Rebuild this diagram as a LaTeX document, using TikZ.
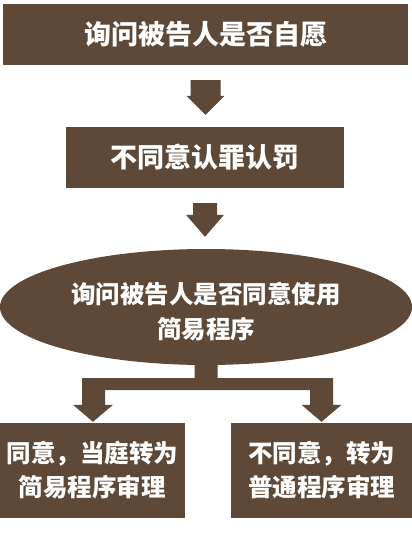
\documentclass[tikz,border=0pt]{standalone}
\usepackage{fontspec}
\newfontfamily\cjk{Noto Sans CJK SC}
\usetikzlibrary{shapes.geometric,calc}
\definecolor{brn}{HTML}{5E4838}
\tikzset{
  box/.style={fill=brn, inner sep=0pt, text=white, font=\cjk\bfseries\fontsize{24.5}{34}\selectfont, align=center},
  topbox/.style={box, font=\cjk\bfseries\fontsize{27}{34}\selectfont},
  lbl/.style={inner sep=0pt, text=white, font=\cjk\bfseries\fontsize{24.5}{35}\selectfont, align=center},
  blk/.style={fill=brn}
}
\begin{document}
\begin{tikzpicture}[x=1pt,y=-1pt]
\useasboundingbox[fill=white] (0,0) rectangle (412,549);
\node[topbox, minimum width=405pt, minimum height=61pt] (b1) at (205.5,34.5) {询问被告人是否自愿};
\node[topbox, minimum width=278pt, minimum height=61pt] (b2) at (205,157.5) {不同意认罪认罚};
\node[ellipse, fill=brn, minimum width=412pt, minimum height=116pt, inner sep=0pt] (el) at (206,307) {};
\node[lbl] (elt) at (206,312) {询问被告人是否同意使用\\简易程序};
\node[box, minimum width=185pt, minimum height=95pt] (L) at (92.5,470.5) {同意，当庭转为\\简易程序审理};
\node[box, minimum width=181pt, minimum height=95pt] (R) at (321.5,470.5) {不同意，转为\\普通程序审理};
% arrow b1 -> b2
\fill[blk] let \p1=(b1.south), \p2=(b2.north) in
  (\x1-15pt,\y1-15pt) -- (\x1+15pt,\y1-15pt) -- (\x1+15pt,\y2+31pt) -- (\x1+19pt,\y2+31pt)
  -- (\x1,\y2+12pt) -- (\x1-19pt,\y2+31pt) -- (\x1-15pt,\y2+31pt) -- cycle;
% arrow b2 -> el
\fill[blk] let \p1=(b2.south), \p2=(el.north) in
  (\x1-12pt,\y1-15pt) -- (\x1+12pt,\y1-15pt) -- (\x1+12pt,\y2+34pt) -- (\x1+19pt,\y2+34pt)
  -- (\x1,\y2+12pt) -- (\x1-19pt,\y2+34pt) -- (\x1-12pt,\y2+34pt) -- cycle;
% branching connector el -> L, R
\fill[blk] let \p1=(el.south), \p2=(L.north), \p3=(R.north) in
  (\x1-11.5pt,\y1+5pt) -- (\x1+11.5pt,\y1+5pt) -- (\x1+11.5pt,\y1-13pt)
  -- (\x3+11.5pt,\y1-13pt) -- (\x3+11.5pt,\y2+18pt) -- (\x3+20pt,\y2+18pt)
  -- (\x3,\y2+1pt) -- (\x3-20pt,\y2+18pt) -- (\x3-11.5pt,\y2+18pt)
  -- (\x3-11.5pt,\y1-25pt) -- (\x2+12.5pt,\y1-25pt) -- (\x2+12.5pt,\y2+18pt)
  -- (\x2+20.5pt,\y2+18pt) -- (\x2+0.5pt,\y2+1pt) -- (\x2-19.5pt,\y2+18pt)
  -- (\x2-10.5pt,\y2+18pt) -- (\x2-10.5pt,\y1-13pt) -- (\x1-11.5pt,\y1-13pt) -- cycle;
\end{tikzpicture}
\end{document}
